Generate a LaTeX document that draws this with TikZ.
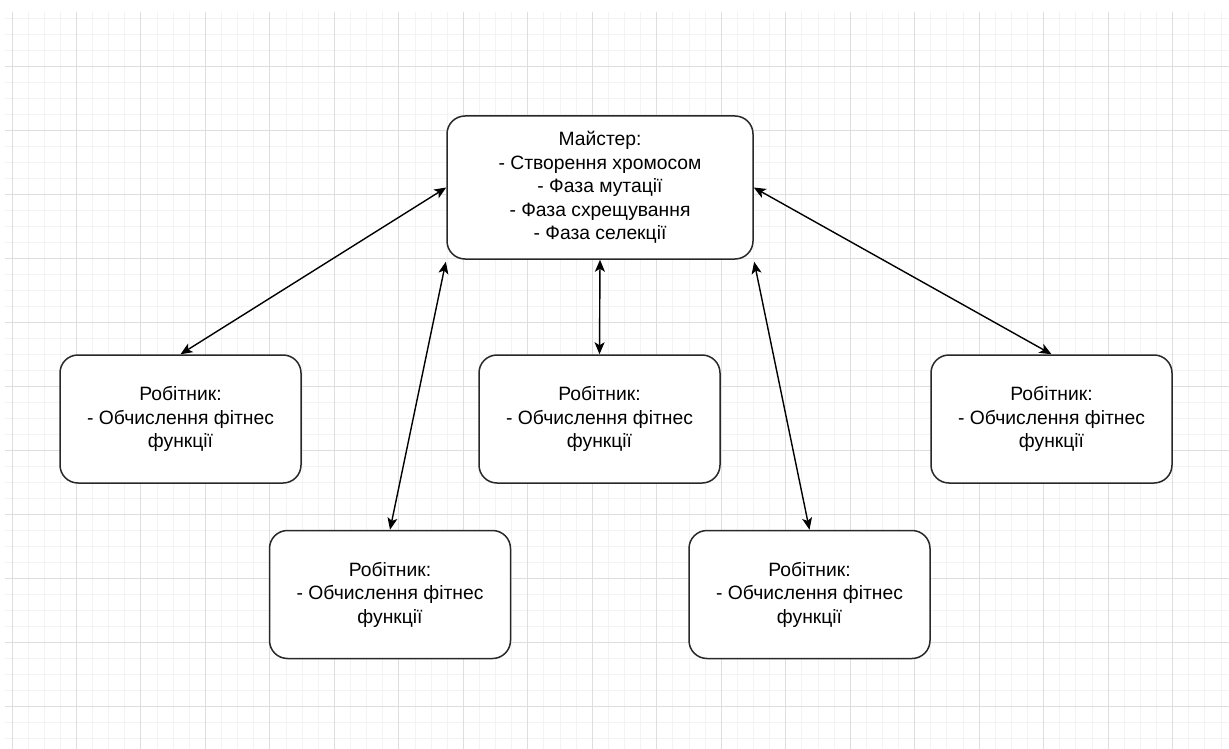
\documentclass[tikz,border=0pt]{standalone}
\usepackage{fontspec}
\setmainfont{Liberation Sans}
\usetikzlibrary{arrows.meta}
\definecolor{gridminor}{RGB}{243,243,243}
\definecolor{gridmajor}{RGB}{222,222,222}
\definecolor{boxline}{RGB}{40,40,40}
\tikzset{
  box/.style={draw=boxline, line width=1.5pt, rounded corners=18pt, fill=white,
    inner sep=0pt, align=center, font=\fontsize{19.3}{23.5}\selectfont},
  master/.style={box, minimum width=306pt, minimum height=143pt},
  worker/.style={box, minimum width=241pt, minimum height=128pt},
  link/.style={draw=black, line width=1.4pt,
    {Stealth[length=12pt,width=10pt,inset=3pt]}-{Stealth[length=12pt,width=10pt,inset=3pt]}},
  minorline/.style={draw=gridminor, line width=1pt},
  majorline/.style={draw=gridmajor, line width=1pt}
}
\begin{document}
\begin{tikzpicture}[x=1pt,y=-1pt]
\useasboundingbox (0,0) rectangle (1229,749);
\fill[white] (0,0) rectangle (1229,749);
% background grid
\foreach \k in {0,...,75} \draw[minorline] (12+16.12*\k,12) -- (12+16.12*\k,749);
\foreach \k in {0,...,45} \draw[minorline] (5,19+15.98*\k) -- (1229,19+15.98*\k);
\foreach \k in {0,4,...,72} \draw[majorline] (12+16.12*\k,12) -- (12+16.12*\k,749);
\foreach \k in {3,7,...,43} \draw[majorline] (5,19+15.98*\k) -- (1229,19+15.98*\k);
% master node
\node[master] (m) at (600,187.5) {Майстер:\\- Створення хромосом\\- Фаза мутації\\- Фаза схрещування\\- Фаза селекції};
% worker nodes
\node[worker] (w1) at (180.5,419) {Робітник:\\- Обчислення фітнес\\функції};
\node[worker] (w2) at (390,594.5) {Робітник:\\- Обчислення фітнес\\функції};
\node[worker] (w3) at (599.5,419) {Робітник:\\- Обчислення фітнес\\функції};
\node[worker] (w4) at (809.5,594.5) {Робітник:\\- Обчислення фітнес\\функції};
\node[worker] (w5) at (1051.5,419) {Робітник:\\- Обчислення фітнес\\функції};
% connectors
\draw[link] (m.west) -- (w1.north);
\draw[link, shorten <=2pt] (m.south west) -- (w2.north);
\draw[link] (m.south) -- (w3.north);
\draw[link, shorten <=2pt] (m.south east) -- (w4.north);
\draw[link] (m.east) -- (w5.north);
\end{tikzpicture}
\end{document}
